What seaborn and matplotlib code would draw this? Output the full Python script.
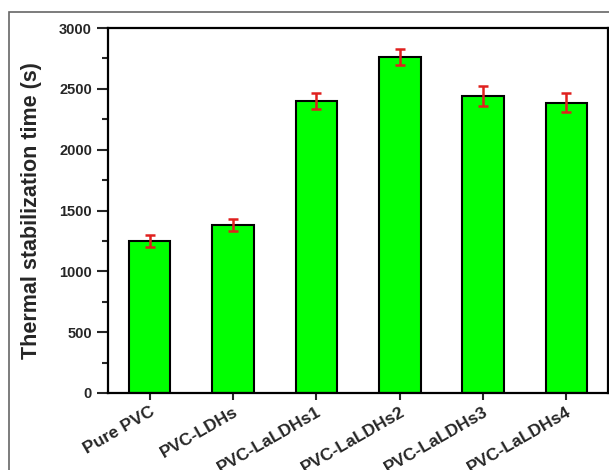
import matplotlib
matplotlib.use("Agg")
import matplotlib.pyplot as plt
from matplotlib.patches import Rectangle
from matplotlib.ticker import MultipleLocator
import seaborn as sns
import pandas as pd

# Thermal stabilization time of PVC samples
samples = ["Pure PVC", "PVC-LDHs", "PVC-LaLDHs1", "PVC-LaLDHs2", "PVC-LaLDHs3", "PVC-LaLDHs4"]
stab_time = [1250, 1380, 2400, 2760, 2440, 2385]
stab_err = [50, 50, 67, 65, 80, 78]

df = pd.DataFrame({"sample": samples, "time": stab_time, "err": stab_err})

sns.set_theme(style="ticks")
plt.rcParams["font.family"] = ["Liberation Sans", "DejaVu Sans"]
plt.rcParams["font.weight"] = "bold"

fig = plt.figure(figsize=(6.09, 4.70), dpi=100)
ax = fig.add_axes([108 / 609, 1 - 393 / 470, 500 / 609, 365 / 470])

sns.barplot(data=df, x="sample", y="time", order=samples, color="#00FF00",
            saturation=1, width=0.5, edgecolor="black", linewidth=1.5,
            errorbar=None, ax=ax)
ax.errorbar(x=range(len(samples)), y=df["time"], yerr=df["err"], fmt="none",
            ecolor="#E0201E", elinewidth=1.8, capsize=3.6, capthick=1.8, zorder=5)

ax.set_xlim(-0.5, 5.5)
ax.set_ylim(0, 3000)
ax.yaxis.set_major_locator(MultipleLocator(500))
ax.yaxis.set_minor_locator(MultipleLocator(250))
ax.tick_params(axis="y", which="major", length=8, width=1.5, labelsize=10.5, direction="out")
ax.tick_params(axis="y", which="minor", length=4, width=1.5, direction="out")
ax.tick_params(axis="x", length=5, width=1.5, labelsize=12.5, direction="out", pad=3)
ax.set_xticks(range(len(samples)))
ax.set_xticklabels(samples, rotation=30, ha="right", rotation_mode="anchor", fontweight="bold")
for lab in ax.get_yticklabels():
    lab.set_fontweight("bold")

ax.set_xlabel("")
ax.set_ylabel("Thermal stabilization time (s)", fontsize=15.5, fontweight="bold", labelpad=12)
for s in ax.spines.values():
    s.set_visible(True)
    s.set_linewidth(1.6)
    s.set_color("black")

# outer frame around the figure
fig.add_artist(Rectangle((9 / 609, -0.05), 1.1, 1 - 12 / 470 + 0.05,
                         transform=fig.transFigure, fill=False,
                         edgecolor="#666666", linewidth=1.2))

fig.savefig("out.png", dpi=100)
